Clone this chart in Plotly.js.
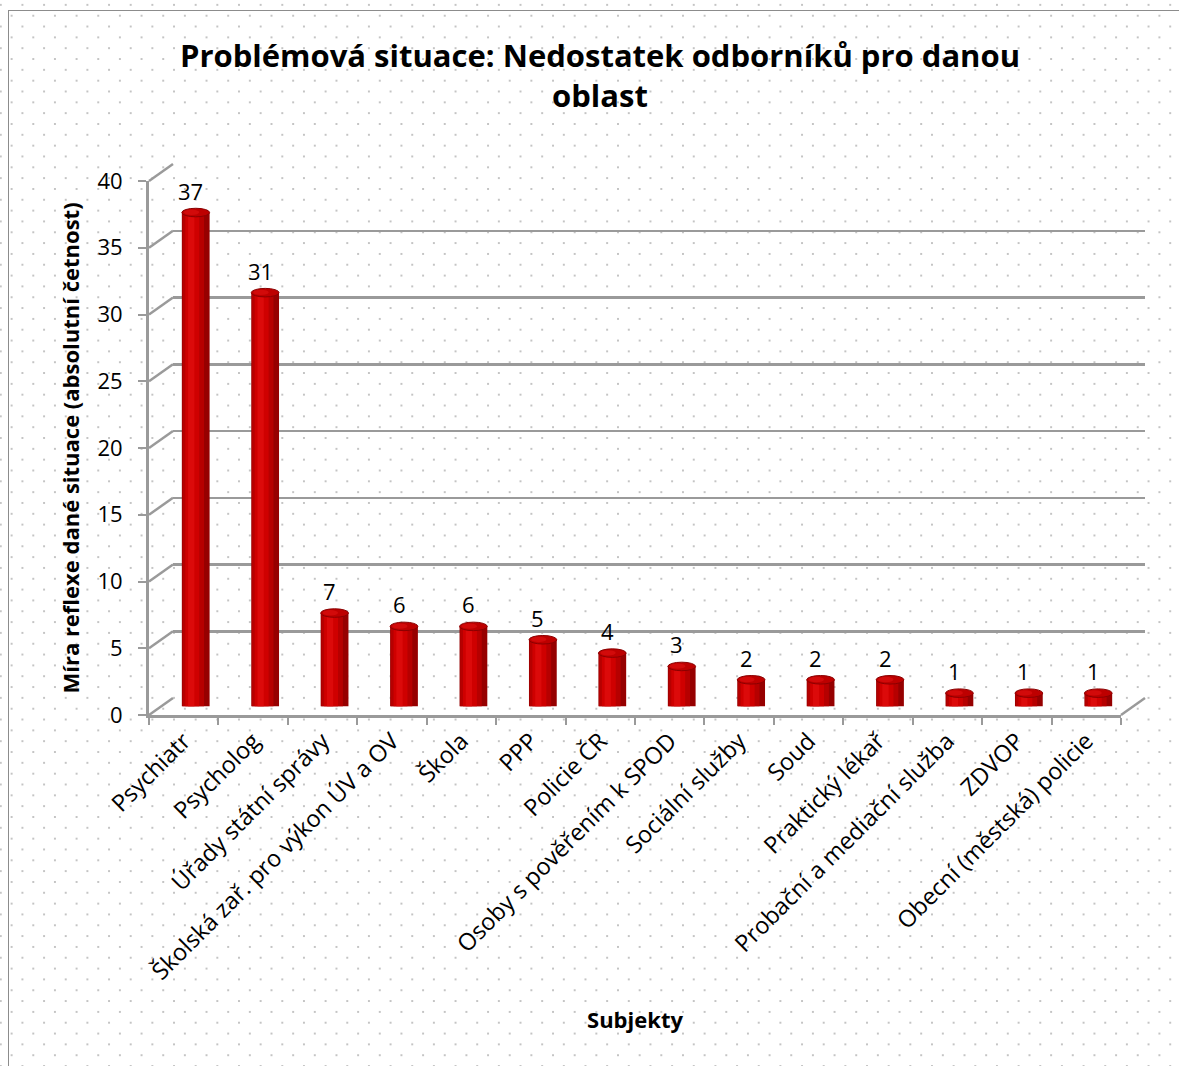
<!DOCTYPE html>
<html>
<head>
<meta charset="utf-8">
<script src="https://cdn.plot.ly/plotly-3.0.1.min.js"></script>
<style>
  html, body { margin: 0; padding: 0; width: 1179px; height: 1066px; overflow: hidden; background: #ffffff; }
  #bg {
    position: absolute; left: 0; top: 0; width: 1179px; height: 1066px;
    background-color: #ffffff;
    background-image:
      radial-gradient(circle, #c4c4c4 0.9px, rgba(255,255,255,0) 1.4px),
      radial-gradient(circle, #c4c4c4 0.9px, rgba(255,255,255,0) 1.4px);
    background-size: 21.67px 21.67px, 21.67px 21.67px;
    background-position: 0.8px 4.9px, 11.6px 15.7px;
  }
  #frame {
    position: absolute; left: 8px; top: 10px; width: 1200px; height: 1100px;
    border-top: 1.5px solid #8c8c8c; border-left: 1.5px solid #8c8c8c;
  }
  #chart { position: absolute; left: 0; top: 0; width: 1179px; height: 1066px; }
</style>
</head>
<body>
<div id="bg"></div>
<div id="frame"></div>
<div id="chart"></div>
<script>
// ---- data ----
const categories = [
  "Psychiatr", "Psycholog", "Úřady státní správy", "Školská zař. pro výkon ÚV a OV",
  "Škola", "PPP", "Policie ČR", "Osoby s pověřením k SPOD", "Sociální služby",
  "Soud", "Praktický lékař", "Probační a mediační služba", "ZDVOP", "Obecní (městská) policie"
];
const values = [37, 31, 7, 6, 6, 5, 4, 3, 2, 2, 2, 1, 1, 1];
const yTickValues = [0, 5, 10, 15, 20, 25, 30, 35, 40];
const titleText = "Problémová situace: Nedostatek odborníků pro danou<br>oblast";
const xTitleText = "Subjekty";
const yTitleText = "Míra reflexe dané situace (absolutní četnost)";

// ---- geometry (pixels) ----
const W = 1179, H = 1066;
const L = 149, R = 1145, T = 164, B = 715;
const pw = R - L, ph = B - T;
const dX = 24, dY = 17;           // 3D depth offset
const yMax = 40;

const fxDom = [0, (pw - dX) / pw];
const bxDom = [dX / pw, 1];
const mxDom = [dX / 2 / pw, 1 - dX / 2 / pw];
const fyDom = [0, (ph - dY) / ph];
const byDom = [dY / ph, 1];
const myDom = [dY / 2 / ph, 1 - dY / 2 / ph];

const FONT = "'Open Sans', Lato, sans-serif";
const GRID = "#9a9a9a";

// ---- cylinder-like bars (layered) ----
const barLayers = [
  { w: 0.40, off: -0.20, color: "#960000" },
  { w: 0.31, off: -0.19, color: "#b60000" },
  { w: 0.20, off: -0.15, color: "#cf0000" },
  { w: 0.09, off: -0.11, color: "#dc0a0a" }
];
const traces = barLayers.map(b => ({
  type: "bar", x: categories, y: values, xaxis: "x3", yaxis: "y3",
  width: b.w, offset: b.off,
  marker: { color: b.color, line: { width: 0 } },
  hoverinfo: "skip", showlegend: false
}));
// empty traces to create front and back subplots
traces.unshift({ type: "scatter", x: [], y: [], xaxis: "x2", yaxis: "y2", showlegend: false, hoverinfo: "skip" });
traces.unshift({ type: "scatter", x: categories, y: values.map(() => null), xaxis: "x", yaxis: "y", showlegend: false, hoverinfo: "skip" });

// ---- shapes ----
const shapes = [];
// diagonal connectors from the front axis to the back wall grid
yTickValues.forEach(v => {
  shapes.push({
    type: "line", xref: "paper", yref: "paper", layer: "below",
    x0: fxDom[0], y0: fyDom[0] + (v / yMax) * (fyDom[1] - fyDom[0]),
    x1: bxDom[0], y1: byDom[0] + (v / yMax) * (byDom[1] - byDom[0]),
    line: { color: GRID, width: 2.5 }
  });
});
// right floor edge
shapes.push({
  type: "line", xref: "paper", yref: "paper", layer: "below",
  x0: fxDom[1], y0: fyDom[0], x1: bxDom[1], y1: byDom[0],
  line: { color: GRID, width: 2.5 }
});
// top caps of cylinders
values.forEach((v, i) => {
  shapes.push({
    type: "circle", xref: "x3", yref: "y3", layer: "above",
    x0: i - 0.20, x1: i + 0.20, y0: v - 0.32, y1: v + 0.32,
    fillcolor: "#bd0000", line: { color: "#8a0000", width: 1 }
  });
  shapes.push({
    type: "circle", xref: "x3", yref: "y3", layer: "above",
    x0: i - 0.17, x1: i + 0.05, y0: v - 0.18, y1: v + 0.22,
    fillcolor: "#d20a0a", line: { width: 0 }
  });
});

// ---- data labels ----
const annotations = values.map((v, i) => ({
  xref: "x3", yref: "y3", x: categories[i], y: v,
  text: String(v), showarrow: false, xshift: -5, yshift: 22,
  xanchor: "center", yanchor: "middle",
  font: { family: FONT, size: 22, color: "#000000" }
}));

const layout = {
  width: W, height: H,
  margin: { l: L, r: W - R, t: T, b: H - B, pad: 0 },
  paper_bgcolor: "rgba(0,0,0,0)",
  plot_bgcolor: "rgba(0,0,0,0)",
  barmode: "overlay",
  showlegend: false,
  title: {
    text: titleText,
    font: { family: FONT, size: 31, color: "#000000", weight: "bold" },
    xref: "container", x: 600 / W, xanchor: "center",
    yref: "container", y: 1 - 67 / H, yanchor: "middle"
  },
  xaxis: {
    domain: fxDom, anchor: "y", type: "category",
    categoryorder: "array", categoryarray: categories,
    range: [-0.5, categories.length - 0.5],
    showline: true, linecolor: GRID, linewidth: 3,
    ticks: "outside", tickson: "boundaries", ticklen: 7, tickwidth: 2, tickcolor: GRID,
    tickangle: -45, showgrid: false, zeroline: false,
    tickfont: { family: FONT, size: 23.5, color: "#000000" },
    title: { text: xTitleText, standoff: 28, font: { family: FONT, size: 22, color: "#000000", weight: "bold" } },
    automargin: false, fixedrange: true
  },
  yaxis: {
    domain: fyDom, anchor: "x", range: [0, yMax], tickvals: yTickValues,
    showline: true, linecolor: GRID, linewidth: 3,
    ticks: "outside", ticklen: 8, tickwidth: 2, tickcolor: GRID, ticklabelstandoff: 11,
    showgrid: false, zeroline: false,
    tickfont: { family: FONT, size: 22, color: "#000000" },
    title: { text: yTitleText, standoff: 12, font: { family: FONT, size: 22, color: "#000000", weight: "bold" } },
    automargin: false, fixedrange: true
  },
  xaxis2: {
    domain: bxDom, anchor: "y2", type: "category",
    categoryorder: "array", categoryarray: categories,
    range: [-0.5, categories.length - 0.5],
    showticklabels: false, ticks: "", showline: false, showgrid: false, zeroline: false, fixedrange: true
  },
  yaxis2: {
    domain: byDom, anchor: "x2", range: [0, yMax], tickvals: yTickValues,
    showticklabels: false, ticks: "", showline: false,
    showgrid: true, gridcolor: GRID, gridwidth: 2.5, zeroline: false, fixedrange: true
  },
  xaxis3: {
    domain: mxDom, anchor: "y3", type: "category",
    categoryorder: "array", categoryarray: categories,
    range: [-0.5, categories.length - 0.5], visible: false, fixedrange: true
  },
  yaxis3: {
    domain: myDom, anchor: "x3", range: [0, yMax], visible: false, fixedrange: true
  },
  shapes: shapes,
  annotations: annotations
};

Plotly.newPlot("chart", traces, layout, { displayModeBar: false, staticPlot: true });
</script>
</body>
</html>
